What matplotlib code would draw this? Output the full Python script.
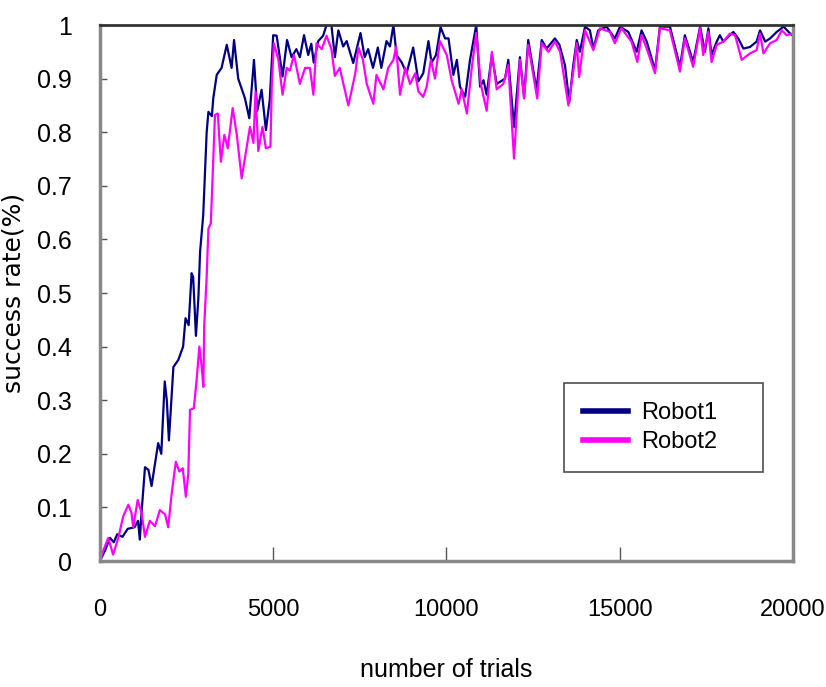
import matplotlib
matplotlib.use("Agg")
import matplotlib.pyplot as plt

# Robot1 (navy) success rate
trials1 = [0, 150, 290, 400, 500, 650, 800, 1000, 1100, 1150, 1200, 1300, 1400, 1490,
           1680, 1770, 1870, 1930, 1990, 2120, 2260, 2400, 2470, 2560, 2645, 2690, 2770,
           2840, 2890, 2980, 3080, 3130, 3230, 3270, 3370, 3510, 3660, 3800, 3870, 3990,
           4185, 4310, 4445, 4540, 4665, 4790, 4900, 5000, 5100, 5270, 5400, 5530, 5670,
           5770, 5890, 6010, 6100, 6170, 6300, 6440, 6540, 6680, 6780, 6880, 7020, 7120,
           7310, 7520, 7640, 7740, 7880, 8020, 8120, 8270, 8370, 8470, 8560, 8710, 8850,
           9040, 9190, 9330, 9480, 9570, 9700, 9830, 9960, 10060, 10200, 10300, 10390,
           10540, 10680, 10860, 10970, 11070, 11160, 11310, 11450, 11690, 11785, 11950,
           12120, 12240, 12360, 12600, 12750, 12890, 13130, 13260, 13420, 13545, 13660,
           13760, 13850, 14000, 14140, 14240, 14380, 14620, 14860, 15010, 15250, 15490,
           15630, 15780, 16020, 16160, 16450, 16740, 16880, 17120, 17320, 17460, 17560,
           17650, 17800, 17890, 17990, 18180, 18280, 18420, 18570, 18760, 18950, 19050,
           19200, 19340, 19530, 19730, 19920, 20000]
rate1 = [0.0, 0.02, 0.043, 0.035, 0.05, 0.045, 0.06, 0.063, 0.075, 0.04, 0.09, 0.175, 0.17, 0.14,
         0.22, 0.2, 0.335, 0.3, 0.225, 0.362, 0.375, 0.40, 0.453, 0.44, 0.537, 0.53, 0.42,
         0.49, 0.577, 0.645, 0.80, 0.838, 0.83, 0.863, 0.907, 0.92, 0.963, 0.92, 0.972, 0.90,
         0.863, 0.826, 0.935, 0.84, 0.879, 0.804, 0.86, 0.981, 0.98, 0.904, 0.972, 0.94, 0.955,
         0.94, 0.981, 0.944, 0.965, 0.93, 0.97, 0.98, 1.0, 1.0, 0.94, 0.99, 0.96, 0.97,
         0.929, 0.985, 0.94, 0.955, 0.92, 0.958, 0.92, 0.97, 0.96, 1.0, 0.944, 0.93, 0.91,
         0.958, 0.895, 0.91, 0.97, 0.93, 0.944, 0.996, 0.975, 0.975, 0.907, 0.935, 0.885,
         0.866, 0.935, 1.0, 0.885, 0.897, 0.87, 0.944, 0.89, 0.90, 0.935, 0.81,
         0.94, 0.866, 0.972, 0.879, 0.972, 0.956, 0.975, 0.963, 0.925, 0.856, 0.925,
         0.972, 0.95, 0.997, 0.99, 0.956, 0.99, 0.997, 0.975, 0.997, 0.987, 0.95,
         0.99, 0.969, 0.916, 0.997, 0.997, 0.922, 0.981, 0.931, 0.997, 0.95, 0.994,
         0.944, 0.969, 0.981, 0.969, 0.981, 0.987, 0.975, 0.956, 0.959, 0.969, 0.99,
         0.969, 0.975, 0.987, 0.997, 0.984, 0.98]

# Robot2 (magenta) success rate
trials2 = [0, 100, 240, 380, 530, 670, 820, 910, 960, 1090, 1200, 1300, 1440, 1590, 1730,
           1880, 1970, 2070, 2190, 2290, 2390, 2480, 2550, 2600, 2710, 2790, 2870, 2940,
           2985, 3010, 3080, 3130, 3200, 3250, 3320, 3400, 3490, 3590, 3690, 3830, 3950,
           4090, 4230, 4330, 4430, 4490, 4570, 4690, 4790, 4920, 4960, 5020, 5150, 5270,
           5390, 5480, 5600, 5770, 5920, 6060, 6160, 6250, 6400, 6540, 6680, 6780, 6920,
           7170, 7370, 7460, 7590, 7700, 7890, 7980, 8180, 8320, 8470, 8550, 8660, 8810,
           8950, 9100, 9190, 9330, 9430, 9550, 9670, 9810, 10010, 10150, 10350, 10440,
           10590, 10730, 10860, 10990, 11160, 11310, 11450, 11640, 11785, 11950, 12120,
           12240, 12360, 12620, 12750, 12940, 13130, 13280, 13520, 13660, 13760, 13830,
           14000, 14240, 14430, 14720, 14860, 15050, 15340, 15510, 15630, 15780, 16020,
           16160, 16450, 16740, 16880, 17120, 17320, 17410, 17560, 17650, 17800, 17990,
           18180, 18330, 18520, 18760, 18950, 19050, 19150, 19340, 19530, 19680, 19820, 20000]
rate2 = [0.0, 0.02, 0.043, 0.012, 0.043, 0.083, 0.105, 0.09, 0.063, 0.114, 0.09, 0.045, 0.075, 0.065, 0.095,
         0.087, 0.063, 0.126, 0.185, 0.167, 0.173, 0.12, 0.163, 0.282, 0.285, 0.338, 0.40, 0.36,
         0.325, 0.44, 0.53, 0.62, 0.63, 0.714, 0.832, 0.835, 0.745, 0.795, 0.77, 0.845, 0.795,
         0.714, 0.77, 0.81, 0.78, 0.876, 0.765, 0.81, 0.77, 0.773, 0.89, 0.966, 0.935, 0.87,
         0.92, 0.915, 0.944, 0.89, 0.92, 0.92, 0.87, 0.966, 0.955, 0.98, 0.955, 0.905, 0.92,
         0.85, 0.91, 0.958, 0.935, 0.89, 0.853, 0.907, 0.88, 0.92, 0.935, 0.96, 0.87, 0.92,
         0.89, 0.91, 0.876, 0.866, 0.885, 0.935, 0.9, 0.97, 0.944, 0.897, 0.853, 0.88,
         0.835, 0.92, 0.985, 0.89, 0.84, 0.95, 0.88, 0.89, 0.925, 0.751, 0.935,
         0.863, 0.963, 0.863, 0.966, 0.95, 0.969, 0.95, 0.85, 0.913, 0.966, 0.903,
         0.99, 0.953, 0.994, 0.987, 0.966, 0.994, 0.969, 0.931, 0.981, 0.956, 0.91,
         0.994, 0.99, 0.913, 0.975, 0.922, 0.994, 0.944, 0.987, 0.931, 0.963, 0.969,
         0.984, 0.981, 0.935, 0.947, 0.953, 0.984, 0.947, 0.966, 0.972, 0.99, 0.981, 0.984]

xticks = [0, 5000, 10000, 15000, 20000]
yticks = [0, 0.1, 0.2, 0.3, 0.4, 0.5, 0.6, 0.7, 0.8, 0.9, 1]
ytick_labels = ["0", "0.1", "0.2", "0.3", "0.4", "0.5", "0.6", "0.7", "0.8", "0.9", "1"]

narrow = ["Liberation Sans", "DejaVu Sans"]

fig = plt.figure(figsize=(8.26, 6.87), dpi=100)
ax = fig.add_axes([0.121, 0.1834, 0.839, 0.7802])

ax.plot(trials1, rate1, color="#000080", lw=1.6, label="Robot1")
ax.plot(trials2, rate2, color="#FF00FF", lw=1.6, label="Robot2")

ax.set_xlim(0, 20000)
ax.set_ylim(0, 1)
ax.set_xticks(xticks)
ax.set_xticklabels([str(v) for v in xticks], family=narrow, fontsize=17)
ax.set_yticks(yticks)
ax.set_yticklabels(ytick_labels, family=narrow, fontsize=18)
ax.tick_params(axis="x", direction="in", length=10, width=1, color="#555555", pad=27)
ax.tick_params(axis="y", direction="in", length=5, width=1, color="#555555", pad=20)

for side in ["left", "bottom", "right"]:
    ax.spines[side].set_color("#888888")
    ax.spines[side].set_linewidth(2.5)
ax.spines["top"].set_color("#333333")
ax.spines["top"].set_linewidth(2)

ax.set_ylabel("success rate(%)", family="DejaVu Sans", fontsize=18)
ax.yaxis.set_label_coords(-0.107, 0.5)
ax.set_xlabel("number of trials", family=narrow, fontsize=18, labelpad=27)

leg = ax.legend(loc="lower left", bbox_to_anchor=(0.6696, 0.166, 0.287, 0.166), mode="expand",
                prop={"family": narrow, "size": 17},
                frameon=True, fancybox=False, edgecolor="#222222", handlelength=1.9,
                handletextpad=0.55, borderpad=0.8, labelspacing=0.3, borderaxespad=0)
leg.get_frame().set_linewidth(1.2)
for line in leg.get_lines():
    line.set_linewidth(4)

fig.savefig("out.png", dpi=100)
